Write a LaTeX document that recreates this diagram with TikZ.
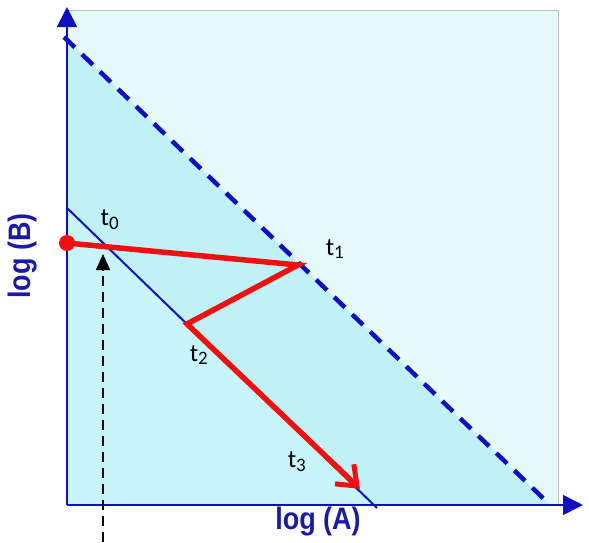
\documentclass[tikz,border=0pt]{standalone}
\usepackage{fontspec}
\setmainfont{Carlito}
\newfontfamily\axfont{Liberation Sans Bold}
\usetikzlibrary{arrows.meta,calc}
\definecolor{axblue}{HTML}{1010C0}
\definecolor{lblblue}{HTML}{1A1AA8}
\definecolor{lowfill}{HTML}{C8F5FA}
\definecolor{midfill}{HTML}{C0F1F7}
\definecolor{upfill}{HTML}{E6FAFC}
\definecolor{redline}{HTML}{F01010}
\tikzset{
  axis/.style={draw=axblue, line width=1.6pt, -{Triangle[length=20pt,width=20pt]}},
  limitline/.style={draw=axblue, line width=2pt},
  dashlimit/.style={draw=axblue, line width=4.5pt, dash pattern=on 15pt off 10pt},
  path/.style={draw=redline, line width=5.5pt, line join=miter},
  tlabel/.style={font=\fontsize{25}{28}\selectfont, text=black, inner sep=1pt},
  axlabel/.style={font=\axfont\fontsize{27}{30}\selectfont, text=lblblue, inner sep=1pt},
  startdot/.style={circle, fill=redline, minimum size=16pt, inner sep=0pt},
}
\newcommand{\tsub}[1]{t\textsubscript{\fontsize{19}{20}\selectfont #1}}
\begin{document}
\begin{tikzpicture}[x=1pt,y=-1pt]
\useasboundingbox (0,0) rectangle (589,542);
% regions
\fill[upfill] (67,10) rectangle (558,505);
\fill[midfill] (67,40) -- (67,208) -- (374,505) -- (550,505) -- cycle;
\fill[lowfill] (67,208) -- (67,505) -- (374,505) -- cycle;
\draw[gray!50, line width=0.8pt] (67,10) -- (558,10) -- (558,505);
% limit lines
\coordinate (d0) at (64,37);
\coordinate (d1) at (545,500);
\draw[dashlimit] (d0) -- (d1);
\coordinate (s0) at (67,208);
\coordinate (s1) at (377,508);
\draw[limitline] (s0) -- (s1);
% axes
\coordinate (o) at (67,505);
\coordinate (ytip) at (67,7);
\coordinate (xtip) at (583,505);
\draw[axis] (o) -- (ytip);
\draw[axis] (o) -- (xtip);
% measurement arrow
\coordinate (m0) at (103,542);
\coordinate (m1) at (103,254);
\draw[black, line width=1.8pt, dash pattern=on 10pt off 6pt, -{Triangle[length=16pt,width=14pt]}] (m0) -- (m1);
% trajectory
\node[startdot] (p0) at (67,243) {};
\coordinate (p1) at (298,265);
\coordinate (p2) at (187,324);
\coordinate (p3) at (357,486);
\draw[path] (p0.center) -- (p1) -- (p2) -- (p3);
\draw[path, line width=5pt] ($(p3)!22pt!38:(p2)$) -- (p3) -- ($(p3)!22pt!-38:(p2)$);
% labels
\node[tlabel] (l0) at (110,220) {\tsub{0}};
\node[tlabel] (l1) at (335,249) {\tsub{1}};
\node[tlabel] (l2) at (199,355) {\tsub{2}};
\node[tlabel] (l3) at (297,462) {\tsub{3}};
\node[axlabel] (la) at (318,522) {\scalebox{1}[1.15]{log (A)}};
\node[axlabel, rotate=90] (lb) at (23,256) {\scalebox{1}[1.15]{log (B)}};
\end{tikzpicture}
\end{document}
